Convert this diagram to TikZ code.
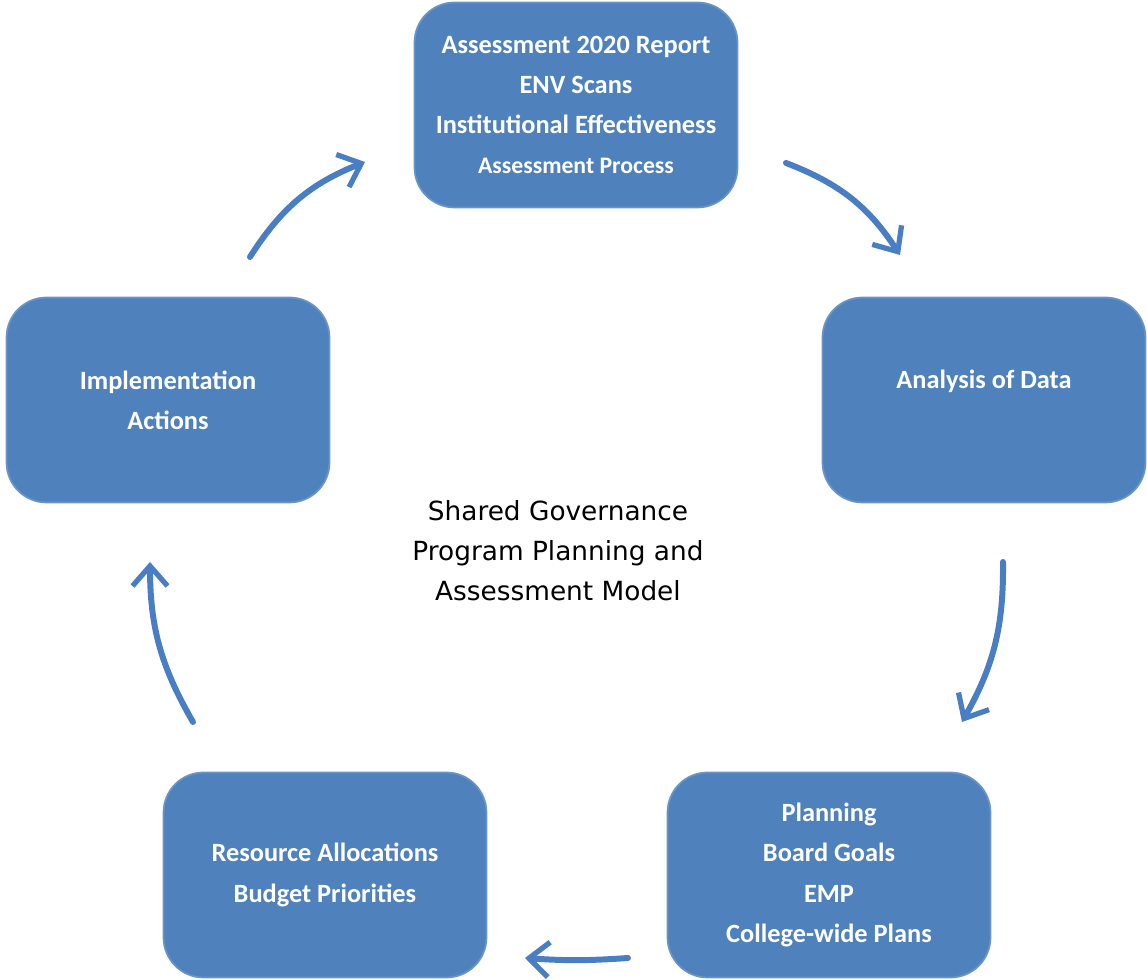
\documentclass[tikz,border=0pt]{standalone}
\usepackage{fontspec}
\setmainfont{Carlito}
\newfontfamily\handfont{DejaVu Sans}
\usetikzlibrary{calc, positioning, arrows.meta}
\definecolor{boxblue}{HTML}{4F81BD}
\definecolor{arrowblue}{HTML}{4A7EC4}
\tikzset{
    stage/.style = {rectangle, rounded corners=0.8cm, fill=boxblue, draw=boxblue!85!white, line width=1pt, minimum width=6.46cm, minimum height=4.1cm, text=white, align=center, font=\bfseries\fontsize{15}{22.8}\selectfont}, % one step of the cycle
    cyc/.style = {draw=arrowblue, line width=3.4pt, line cap=round, -{Straight Barb[length=0.4cm, width=0.7cm, line width=3pt]}},
    title/.style = {align=center, font=\handfont\fontsize{15}{22.8}\selectfont}
}
\begin{document}
\begin{tikzpicture}[x=0.02cm, y=0.02cm]
        \useasboundingbox (0,0) rectangle (1147,980);
        
        %nodes
        
        \node[stage](assess) at (576,875) {Assessment 2020 Report\\ENV Scans\\Institutional Effectiveness\\{\fontsize{13.5}{22.8}\selectfont Assessment Process}};
        \node[stage](analysis) at (984,580) {Analysis of Data\\[-5.7pt]\strut};
        \node[stage](plan) at (829,105) {Planning\\Board Goals\\EMP\\College-wide Plans};
        \node[stage](resource) at (325,105) {Resource Allocations\\Budget Priorities};
        \node[stage](impl) at (168,580) {Implementation\\Actions};
        \node[title](model) at (558,429) {Shared Governance\\Program Planning and\\Assessment Model};
        
        %arrow ends
        
        \coordinate(a1) at (250,723);
        \coordinate(b1) at (365,818);
        \coordinate(a2) at (786,817);
        \coordinate(b2) at (900,725);
        \coordinate(a3) at (1003,418);
        \coordinate(b3) at (962,258);
        \coordinate(a4) at (628,22);
        \coordinate(b4) at (525,22);
        \coordinate(a5) at (193,258);
        \coordinate(b5) at (150,418);
        
        %arrows
        
        \draw[cyc] (a1) to[bend left=18] (b1);
        \draw[cyc] (a2) to[bend left=18] (b2);
        \draw[cyc] (a3) to[bend left=15] (b3);
        \draw[cyc] (a4) to[bend left=4] (b4);
        \draw[cyc] (a5) to[bend left=15] (b5);
    \end{tikzpicture}
\end{document}
